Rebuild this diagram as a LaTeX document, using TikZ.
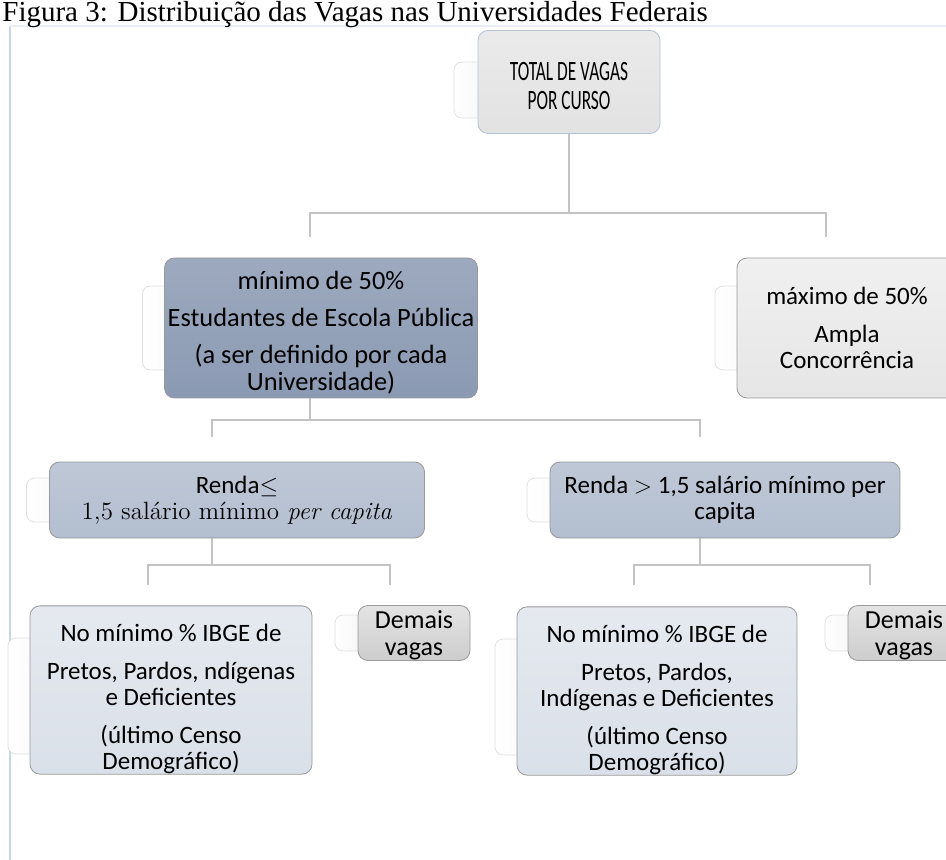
\documentclass[tikz,border=0pt]{standalone}
\usepackage{fontspec}
\setsansfont{Carlito}
\newfontfamily\titlefont{Liberation Serif}
\newfontfamily\narrowsf{Carlito}[FakeStretch=0.62]
\usetikzlibrary{positioning,calc,backgrounds}

\definecolor{topfill}{HTML}{E2E2E2}
\definecolor{topedge}{HTML}{B4C2D8}
\definecolor{pubfill}{HTML}{8B9AB3}
\definecolor{ampfill}{HTML}{E6E6E6}
\definecolor{rendafill}{HTML}{B3BECF}
\definecolor{ibgefill}{HTML}{DAE0E9}
\definecolor{demaisfill}{HTML}{CDCDCD}
\definecolor{connline}{HTML}{C3C3C3}
\definecolor{framecol}{HTML}{C9D5E8}

\begin{document}
\begin{tikzpicture}[x=0.5pt, y=-0.5pt,
    box/.style={draw=black!40, rounded corners=5pt, align=center, inner sep=0pt,
                font=\sffamily\fontsize{12.5}{13}\selectfont},
    tab/.style={rounded corners=4pt, left color=white, right color=black!8, draw=black!12, anchor=west},
    conn/.style={draw=connline, line width=1pt}
]
\useasboundingbox (0,0) rectangle (946,860);

% titulo
\node[anchor=base west, inner sep=0pt, font=\titlefont\fontsize{14.5}{14.5}\selectfont] (title) at (2,22)
    {Figura 3: Distribuição das Vagas nas Universidades Federais};

% nivel 1
\node[box, draw=topedge, top color=topfill!70!white, bottom color=topfill,
      minimum width=91pt, minimum height=51.5pt, font=\narrowsf\fontsize{14}{14.5}\selectfont] (tot) at (569,82)
    {\rule{0pt}{13pt}TOTAL DE VAGAS\\POR CURSO};

% nivel 2
\node[box, top color=pubfill!85!white, bottom color=pubfill, minimum width=156.5pt, minimum height=70pt,
      font=\sffamily\fontsize{13.2}{13.5}\selectfont] (pub) at (321,328)
    {\rule{0pt}{14pt}mínimo de 50\%\\[5pt]Estudantes de Escola Pública\\[5pt](a ser definido por cada\\Universidade)};
\node[box, top color=ampfill!60!white, bottom color=ampfill, minimum width=110pt, minimum height=70pt] (amp) at (847,328)
    {máximo de 50\%\\[6pt]Ampla\\Concorrência};

% nivel 3
\node[box, top color=rendafill!85!white, bottom color=rendafill, minimum width=187.5pt, minimum height=38pt] (r1) at (237,500)
    {Renda$\leq$\\{\rmfamily 1,5 salário mínimo \textit{per capita}}};
\node[box, top color=rendafill!85!white, bottom color=rendafill, minimum width=175pt, minimum height=38pt] (r2) at (725,500)
    {Renda $>$ 1,5 salário mínimo per\\capita};

% nivel 4
\node[box, top color=ibgefill!70!white, bottom color=ibgefill, minimum width=141pt, minimum height=83pt] (n1) at (171,690)
    {\rule{0pt}{18pt}No mínimo \% IBGE de\\[6pt]Pretos, Pardos, ndígenas\\e Deficientes\\[6pt](último Censo\\Demográfico)};
\node[box, top color=demaisfill!55!white, bottom color=demaisfill, minimum width=56pt, minimum height=27.5pt,
      font=\sffamily\fontsize{13}{13.5}\selectfont] (d1) at (414,633)
    {\rule{0pt}{11pt}Demais\\vagas};
\node[box, top color=ibgefill!70!white, bottom color=ibgefill, minimum width=140pt, minimum height=84pt] (n2) at (657,691)
    {\rule{0pt}{18pt}No mínimo \% IBGE de\\[6pt]Pretos, Pardos,\\Indígenas e Deficientes\\[6pt](último Censo\\Demográfico)};
\node[box, top color=demaisfill!55!white, bottom color=demaisfill, minimum width=56pt, minimum height=27.5pt,
      font=\sffamily\fontsize{13}{13.5}\selectfont] (d2) at (904,633)
    {\rule{0pt}{11pt}Demais\\vagas};

% abas e moldura atras das caixas
\begin{scope}[on background layer]
\draw[framecol, line width=1pt] (10,860) -- (10,26);
\draw[framecol!40, line width=0.6pt] (10,26) -- (946,26);
\node[tab, minimum width=40pt, minimum height=28pt] at ([xshift=-12pt,yshift=-4pt]tot.west) {};
\node[tab, minimum width=60pt, minimum height=42pt] at ([xshift=-11pt]pub.west) {};
\node[tab, minimum width=60pt, minimum height=42pt] at ([xshift=-11pt]amp.west) {};
\node[tab, minimum width=60pt, minimum height=22pt] at ([xshift=-11.5pt]r1.west) {};
\node[tab, minimum width=60pt, minimum height=22pt] at ([xshift=-11.5pt]r2.west) {};
\node[tab, minimum width=60pt, minimum height=58pt] at ([xshift=-11pt,yshift=-3pt]n1.west) {};
\node[tab, minimum width=30pt, minimum height=18pt] at ([xshift=-11.5pt]d1.west) {};
\node[tab, minimum width=60pt, minimum height=58pt] at ([xshift=-11pt,yshift=-3pt]n2.west) {};
\node[tab, minimum width=30pt, minimum height=18pt] at ([xshift=-11.5pt]d2.west) {};

% conectores
\coordinate (b1) at (569,213);
\coordinate (pubin) at (310,237);
\coordinate (ampin) at (826,237);
\draw[conn] (tot.south) -- (b1);
\draw[conn] (pubin) |- (b1) -| (ampin);

\coordinate (b2) at (310,420);
\coordinate (r1in) at (212,437);
\coordinate (r2in) at (700,437);
\draw[conn] (pub.south -| b2) -- (b2);
\draw[conn] (r1in) |- (b2) -| (r2in);

\coordinate (b3) at (212,565);
\coordinate (n1in) at (148,585);
\coordinate (d1in) at (390,585);
\draw[conn] (r1.south -| b3) -- (b3);
\draw[conn] (n1in) |- (b3) -| (d1in);

\coordinate (b4) at (700,565);
\coordinate (n2in) at (634,585);
\coordinate (d2in) at (870,585);
\draw[conn] (r2.south -| b4) -- (b4);
\draw[conn] (n2in) |- (b4) -| (d2in);
\end{scope}
\end{tikzpicture}
\end{document}
